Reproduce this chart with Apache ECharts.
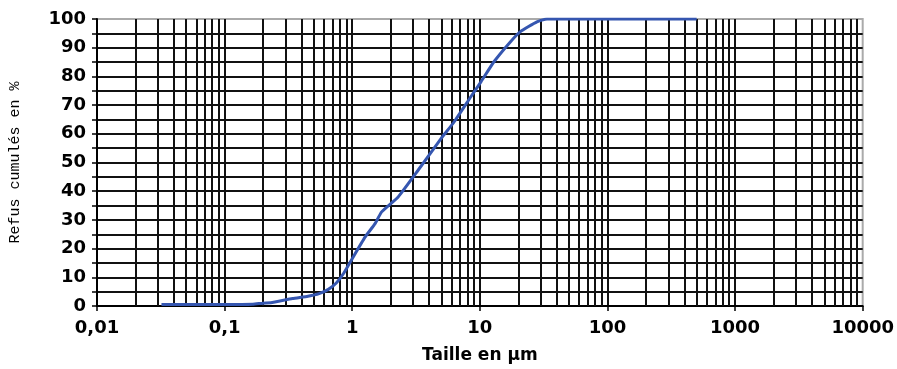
<!DOCTYPE html>
<html>
<head>
<meta charset="utf-8">
<script src="https://cdn.jsdelivr.net/npm/echarts@6/dist/echarts.min.js"></script>
<style>
  html, body { margin: 0; padding: 0; background: #fff; }
  #chart { width: 897px; height: 369px; }
</style>
</head>
<body>
<div id="chart"></div>
<script>
// particle size (µm) and cumulative retained (%)
const sizes = [0.032, 0.1, 0.166, 0.2, 0.23, 0.34, 0.45, 0.55, 0.65, 0.75, 0.86, 1.0, 1.26, 1.51, 1.7, 2.29, 3.28, 4.98, 6.3, 8.5, 10.2, 12.9, 17.4, 20.8, 28, 33.6, 500];
const refus = [0.5, 0.5, 0.6, 1.0, 1.1, 2.6, 3.4, 4.3, 5.8, 8, 11.5, 16.5, 24, 28.7, 32.8, 38, 47.3, 58.4, 64.2, 72.9, 78.1, 85.1, 92.1, 95.6, 99, 100, 100];

const xTickLabels = ['0,01', '0,1', '1', '10', '100', '1000', '10000'];
const decades = [0.01, 0.1, 1, 10, 100, 1000];
const minorSteps = [2, 3, 4, 5, 6, 7, 8, 9];

const minorLines = [];
decades.forEach(function (d) {
  minorSteps.forEach(function (m) {
    minorLines.push({ xAxis: Number((m * d).toPrecision(2)) });
  });
});

const gridColor = '#111';
const borderColor = '#aaa';
const labelFont = { fontFamily: 'DejaVu Sans', fontWeight: 'bold', fontSize: 18, color: '#000' };

const chart = echarts.init(document.getElementById('chart'), null, { renderer: 'canvas' });

chart.setOption({
  animation: false,
  backgroundColor: '#fff',
  grid: { left: 93, top: 19, right: 32, bottom: 63, show: true, borderColor: borderColor, borderWidth: 2 },
  xAxis: {
    type: 'log',
    logBase: 10,
    min: 0.01,
    max: 10000,
    name: 'Taille en µm',
    nameLocation: 'middle',
    nameGap: 41,
    nameTextStyle: { fontFamily: 'DejaVu Sans', fontWeight: 'bold', fontSize: 17, color: '#000' },
    axisLine: { show: true, lineStyle: { color: '#000', width: 2 } },
    axisTick: { show: true, inside: false, length: 5, lineStyle: { color: '#000', width: 1.5 } },
    axisLabel: Object.assign({
      margin: 13,
      formatter: function (v) {
        return xTickLabels[Math.round(Math.log10(v)) + 2];
      }
    }, labelFont),
    splitLine: {
      show: true,
      showMinLine: false,
      showMaxLine: false,
      lineStyle: { color: gridColor, width: 2 }
    }
  },
  yAxis: {
    type: 'value',
    min: 0,
    max: 100,
    interval: 10,
    name: 'Refus cumulés en %',
    nameLocation: 'middle',
    nameGap: 74,
    nameRotate: 90,
    nameTextStyle: { fontFamily: 'Liberation Mono', fontSize: 15, color: '#000' },
    axisLine: { show: true, lineStyle: { color: '#000', width: 2 } },
    axisTick: { show: true, inside: false, length: 5, lineStyle: { color: '#000', width: 1.5 } },
    minorTick: { show: true, splitNumber: 2, length: 5, lineStyle: { color: '#000', width: 1.5 } },
    axisLabel: Object.assign({ margin: 11 }, labelFont),
    splitLine: {
      show: true,
      showMinLine: false,
      showMaxLine: false,
      lineStyle: { color: gridColor, width: 2 }
    },
    minorSplitLine: { show: true, lineStyle: { color: gridColor, width: 2 } }
  },
  series: [
    {
      type: 'line',
      z: 1,
      data: [],
      silent: true,
      markLine: {
        silent: true,
        symbol: 'none',
        animation: false,
        label: { show: false },
        lineStyle: { color: gridColor, width: 2, type: 'solid' },
        data: minorLines
      }
    },
    {
      type: 'line',
      z: 5,
      data: sizes.map(function (s, i) { return [s, refus[i]]; }),
      showSymbol: false,
      smooth: 0.15,
      lineStyle: { color: '#3556b0', width: 3 }
    }
  ]
});
</script>
</body>
</html>
